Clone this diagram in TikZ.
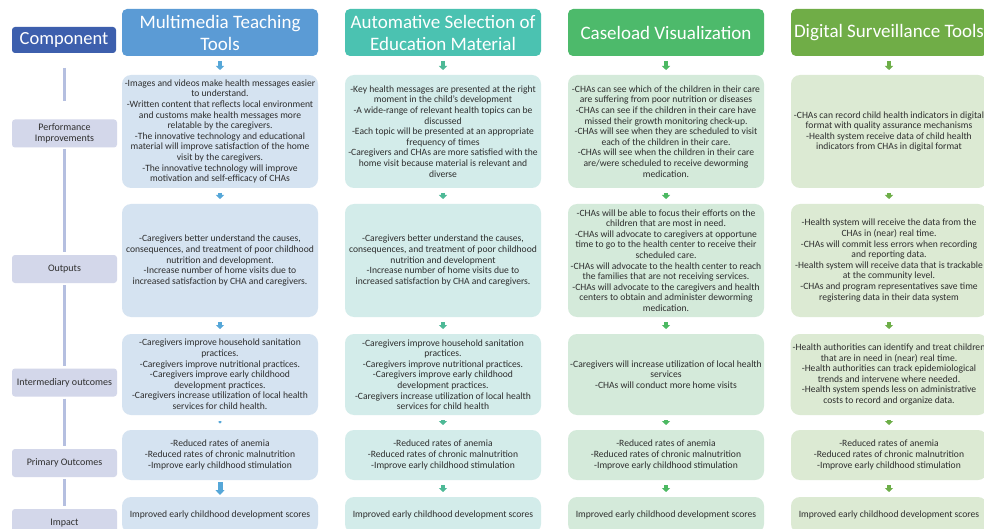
\documentclass[tikz,border=0pt]{standalone}
\usepackage{fontspec}
\setmainfont{Carlito}
\usetikzlibrary{arrows.meta, positioning}

\definecolor{compblue}{HTML}{3D5FAD}
\definecolor{multiblue}{HTML}{5B9BD5}
\definecolor{autoteal}{HTML}{4BC2B1}
\definecolor{casegreen}{HTML}{4DBA6B}
\definecolor{digigreen}{HTML}{70AD47}
\definecolor{multiarrow}{HTML}{56A7D8}
\definecolor{autoarrow}{HTML}{4DB996}
\definecolor{casearrow}{HTML}{4CB962}
\definecolor{digiarrow}{HTML}{6DAE48}
\definecolor{multifill}{HTML}{D5E3F1}
\definecolor{autofill}{HTML}{D3ECEA}
\definecolor{casefill}{HTML}{D4EADA}
\definecolor{digifill}{HTML}{DCEAD3}
\definecolor{labelfill}{HTML}{D3D7EA}
\definecolor{spinecol}{HTML}{B5BFE0}
\definecolor{textgray}{HTML}{2E2E2E}

\tikzstyle{compbox} = [
    rectangle,
    rounded corners=3pt,
    minimum width=104pt,
    minimum height=26pt,
    fill=compblue,
    text=white,
    font=\fontsize{18.5}{21}\selectfont,
    inner sep=1pt,
    outer sep=0pt
]
\tikzstyle{header} = [
    rectangle,
    rounded corners=5pt,
    minimum width=196pt,
    minimum height=47pt,
    align=center,
    text=white,
    font=\fontsize{19}{22}\selectfont,
    inner sep=2pt,
    outer sep=0pt
]
\tikzstyle{cell} = [
    rectangle,
    rounded corners=9pt,
    minimum width=196pt,
    align=center,
    text=textgray,
    font=\fontsize{9.6}{10.6}\selectfont,
    inner sep=2pt,
    outer sep=0pt
]
\tikzstyle{perfcell} = [cell, minimum height=113pt]
\tikzstyle{outcell} = [cell, minimum height=113pt]
\tikzstyle{midcell} = [cell, minimum height=81pt]
\tikzstyle{primcell} = [cell, minimum height=50pt]
\tikzstyle{impcell} = [cell, minimum height=36pt]
\tikzstyle{rowlabel} = [
    rectangle,
    rounded corners=3pt,
    fill=labelfill,
    minimum width=105pt,
    minimum height=28pt,
    align=center,
    text=textgray,
    font=\fontsize{10}{11.5}\selectfont,
    inner sep=1pt,
    outer sep=0pt
]
\tikzstyle{spine} = [spinecol, line width=3pt]
\tikzstyle{flow} = [line width=3.5pt, -{Triangle[width=8pt,length=4pt]}, shorten <=5pt, shorten >=5pt]
\tikzstyle{flowdot} = [line width=2pt, -{Triangle[width=4pt,length=2pt]}, shorten <=6pt, shorten >=6.5pt]
\tikzstyle{flowbig} = [line width=5pt, -{Triangle[width=9pt,length=5pt]}, shorten <=2pt, shorten >=2pt]

\begin{document}
\begin{tikzpicture}[x=1pt, y=-1pt]

\useasboundingbox[fill=white] (0,0) rectangle (984,529);

% column headers
\node (hdMulti) [header, fill=multiblue, anchor=north west] at (122,9) {Multimedia Teaching\\Tools};
\node (hdAuto) [header, fill=autoteal, right=27pt of hdMulti] {Automative Selection of\\Education Material};
\node (hdCase) [header, fill=casegreen, right=27pt of hdAuto] {Caseload Visualization};
\node (hdDigi) [header, fill=digigreen, right=27pt of hdCase] {Digital Surveillance Tools};

% performance improvements
\node (perfA) [perfcell, fill=multifill, below=19pt of hdMulti] {-Images and videos make health messages easier\\to understand.\\-Written content that reflects local environment\\and customs make health messages more\\relatable by the caregivers.\\-The innovative technology and educational\\material will improve satisfaction of the home\\visit by the caregivers.\\-The innovative technology will improve\\motivation and self-efficacy of CHAs};
\node (perfB) [perfcell, fill=autofill, below=19pt of hdAuto] {-Key health messages are presented at the right\\moment in the child's development\\-A wide-range of relevant health topics can be\\discussed\\-Each topic will be presented at an appropriate\\frequency of times\\-Caregivers and CHAs are more satisfied with the\\home visit because material is relevant and\\diverse};
\node (perfC) [perfcell, fill=casefill, below=19pt of hdCase] {-CHAs can see which of the children in their care\\are suffering from poor nutrition or diseases\\-CHAs can see if the children in their care have\\missed their growth monitoring check-up.\\-CHAs will see when they are scheduled to visit\\each of the children in their care.\\-CHAs will see when the children in their care\\are/were scheduled to receive deworming\\medication.};
\node (perfD) [perfcell, fill=digifill, below=19pt of hdDigi] {-CHAs can record child health indicators in digital\\format with quality assurance mechanisms\\-Health system receive data of child health\\indicators from CHAs in digital format};

% outputs
\node (outA) [outcell, fill=multifill, below=16pt of perfA] {-Caregivers better understand the causes,\\consequences, and treatment of poor childhood\\nutrition and development.\\-Increase number of home visits due to\\increased satisfaction by CHA and caregivers.};
\node (outB) [outcell, fill=autofill, below=16pt of perfB] {-Caregivers better understand the causes,\\consequences, and treatment of poor childhood\\nutrition and development\\-Increase number of home visits due to\\increased satisfaction by CHA and caregivers.};
\node (outC) [outcell, fill=casefill, below=16pt of perfC] {-CHAs will be able to focus their efforts on the\\children that are most in need.\\-CHAs will advocate to caregivers at opportune\\time to go to the health center to receive their\\scheduled care.\\-CHAs will advocate to the health center to reach\\the families that are not receiving services.\\-CHAs will advocate to the caregivers and health\\centers to obtain and administer deworming\\medication.};
\node (outD) [outcell, fill=digifill, below=16pt of perfD] {-Health system will receive the data from the\\CHAs in (near) real time.\\-CHAs will commit less errors when recording\\and reporting data.\\-Health system will receive data that is trackable\\at the community level.\\-CHAs and program representatives save time\\registering data in their data system};

% intermediary outcomes
\node (midA) [midcell, fill=multifill, below=17pt of outA] {-Caregivers improve household sanitation\\practices.\\-Caregivers improve nutritional practices.\\-Caregivers improve early childhood\\development practices.\\-Caregivers increase utilization of local health\\services for child health.};
\node (midB) [midcell, fill=autofill, below=17pt of outB] {-Caregivers improve household sanitation\\practices.\\-Caregivers improve nutritional practices.\\-Caregivers improve early childhood\\development practices.\\-Caregivers increase utilization of local health\\services for child health};
\node (midC) [midcell, fill=casefill, below=17pt of outC] {-Caregivers will increase utilization of local health\\services\\-CHAs will conduct more home visits};
\node (midD) [midcell, fill=digifill, below=17pt of outD] {-Health authorities can identify and treat children\\that are in need in (near) real time.\\-Health authorities can track epidemiological\\trends and intervene where needed.\\-Health system spends less on administrative\\costs to record and organize data.};

% primary outcomes
\node (primA) [primcell, fill=multifill, below=15pt of midA] {-Reduced rates of anemia\\-Reduced rates of chronic malnutrition\\-Improve early childhood stimulation};
\node (primB) [primcell, fill=autofill, below=15pt of midB] {-Reduced rates of anemia\\-Reduced rates of chronic malnutrition\\-Improve early childhood stimulation};
\node (primC) [primcell, fill=casefill, below=15pt of midC] {-Reduced rates of anemia\\-Reduced rates of chronic malnutrition\\-Improve early childhood stimulation};
\node (primD) [primcell, fill=digifill, below=15pt of midD] {-Reduced rates of anemia\\-Reduced rates of chronic malnutrition\\-Improve early childhood stimulation};

% impact
\node (impA) [impcell, fill=multifill, below=17pt of primA] {Improved early childhood development scores};
\node (impB) [impcell, fill=autofill, below=17pt of primB] {Improved early childhood development scores};
\node (impC) [impcell, fill=casefill, below=17pt of primC] {Improved early childhood development scores};
\node (impD) [impcell, fill=digifill, below=17pt of primD] {Improved early childhood development scores};

% row labels on the left
\node (component) [compbox, left=6pt of hdMulti, yshift=-7.5pt] {Component};
\node (lbPerf) [rowlabel, left=5pt of perfA, yshift=-2pt] {Performance\\Improvements};
\node (lbOut) [rowlabel, left=5pt of outA, yshift=-8.5pt] {Outputs};
\node (lbMid) [rowlabel, left=5pt of midA, yshift=-8pt] {Intermediary outcomes};
\node (lbPrim) [rowlabel, left=5pt of primA, yshift=-8pt] {Primary Outcomes};
\node (lbImp) [rowlabel, left=5pt of impA, yshift=-8pt] {Impact};

\coordinate (spineTop) at (64.5,68);
\coordinate (spineEnd) at (64.5,101);
\draw[spine] (spineTop) -- (spineEnd);
\draw[spine, shorten <=2pt, shorten >=3pt] (lbPerf) -- (lbOut);
\draw[spine, shorten <=2pt, shorten >=3pt] (lbOut) -- (lbMid);
\draw[spine, shorten <=2pt, shorten >=3pt] (lbMid) -- (lbPrim);
\draw[spine, shorten <=2pt, shorten >=3pt] (lbPrim) -- (lbImp);

% arrows down each column
\draw[flow, multiarrow] (hdMulti) -- (perfA);
\draw[flow, multiarrow] (perfA) -- (outA);
\draw[flow, multiarrow] (outA) -- (midA);
\draw[flowdot, multiarrow] (midA) -- (primA);
\draw[flowbig, multiarrow] (primA) -- (impA);

\draw[flow, autoarrow] (hdAuto) -- (perfB);
\draw[flow, autoarrow] (perfB) -- (outB);
\draw[flow, autoarrow] (outB) -- (midB);
\draw[flow, autoarrow] (midB) -- (primB);
\draw[flow, autoarrow] (primB) -- (impB);

\draw[flow, casearrow] (hdCase) -- (perfC);
\draw[flow, casearrow] (perfC) -- (outC);
\draw[flow, casearrow] (outC) -- (midC);
\draw[flow, casearrow] (midC) -- (primC);
\draw[flow, casearrow] (primC) -- (impC);

\draw[flow, digiarrow] (hdDigi) -- (perfD);
\draw[flow, digiarrow] (perfD) -- (outD);
\draw[flow, digiarrow] (outD) -- (midD);
\draw[flow, digiarrow] (midD) -- (primD);
\draw[flow, digiarrow] (primD) -- (impD);

\end{tikzpicture}
\end{document}
